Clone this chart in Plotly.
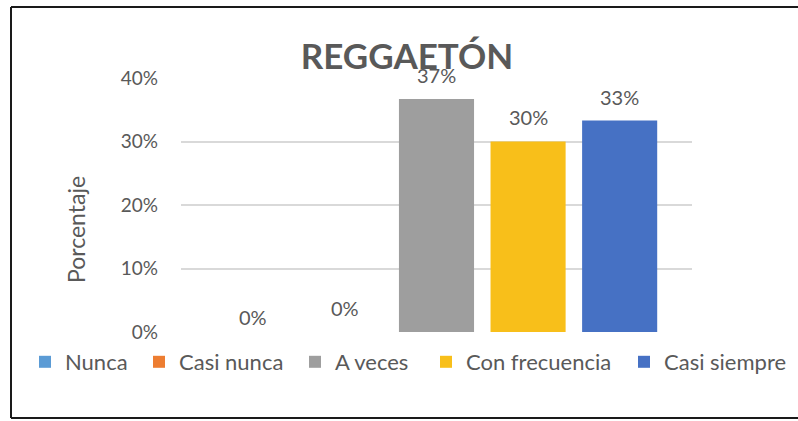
import plotly.graph_objects as go

categories = ["Nunca", "Casi nunca", "A veces", "Con frecuencia", "Casi siempre"]
values = [0.0, 0.0, 0.367, 0.300, 0.333]
labels = ["0%", "0%", "37%", "30%", "33%"]
colors = ["#5B9BD5", "#ED7D31", "#9E9E9E", "#F8BF1A", "#4671C4"]
label_shift = [15, 24, 24, 25, 24]
legend_left_px = [25, 139, 295, 426, 624]
y_ticks = [0, 0.1, 0.2, 0.3, 0.4]
y_ticklabels = ["0%", "10%", "20%", "30%", "40%"]

FONT = "Lato, 'Open Sans', sans-serif"
TXT = "#595959"

W, H = 798, 421
L, R, T, B = 181, 106, 78, 89
PW, PH = W - L - R, H - T - B


def px_x(px):
    return (px - L) / PW


def px_y(py):
    return (H - B - py) / PH


fig = go.Figure()
legend_names = ["legend"] + [f"legend{i}" for i in range(2, len(categories) + 1)]
for cat, val, col, lg in zip(categories, values, colors, legend_names):
    fig.add_trace(go.Bar(
        x=[cat], y=[val], name=cat, width=0.82, legend=lg,
        marker=dict(color=col, line=dict(width=0)),
        hoverinfo="skip",
    ))

for cat, val, lab, sh in zip(categories, values, labels, label_shift):
    fig.add_annotation(x=cat, y=val, text=lab, showarrow=False,
                       yshift=sh, font=dict(family=FONT, size=20, color=TXT))

# y-axis title
fig.add_annotation(xref="paper", yref="paper", x=px_x(76), y=px_y(230),
                   text="Porcentaje", textangle=-90, showarrow=False,
                   xanchor="center", yanchor="middle",
                   font=dict(family=FONT, size=23, color=TXT))

legend_layouts = {}
for lg, px in zip(legend_names, legend_left_px):
    legend_layouts[lg] = dict(orientation="h", x=px_x(px), xanchor="left",
                              y=px_y(362), yanchor="middle",
                              font=dict(family=FONT, size=22, color=TXT),
                              itemclick=False, itemdoubleclick=False,
                              bgcolor="rgba(0,0,0,0)")

border_color = "#1a1a1a"
fig.update_layout(
    width=W, height=H,
    margin=dict(l=L, r=R, t=T, b=B, autoexpand=False),
    paper_bgcolor="white", plot_bgcolor="white",
    barmode="overlay",
    title=dict(text="<b>REGGAETÓN</b>", x=407 / W, xanchor="center",
               y=1 - 57 / H, yanchor="middle",
               font=dict(family=FONT, size=35, color=TXT)),
    showlegend=True,
    xaxis=dict(type="category", categoryorder="array", categoryarray=categories,
               range=[-0.79, 4.79], showticklabels=False, showgrid=False,
               zeroline=False, showline=False, ticks=""),
    yaxis=dict(range=[0, 0.4], tickvals=y_ticks, ticktext=y_ticklabels,
               showgrid=True, gridcolor="#D9D9D9", gridwidth=1.5,
               zeroline=False, showline=False, ticks="",
               ticklabelstandoff=22,
               tickfont=dict(family=FONT, size=19, color=TXT)),
    shapes=[
        dict(type="line", xref="paper", yref="paper",
             x0=px_x(11), x1=px_x(11), y0=px_y(418), y1=px_y(7),
             line=dict(color=border_color, width=2)),
        dict(type="line", xref="paper", yref="paper",
             x0=px_x(11), x1=px_x(W + 20), y0=px_y(7), y1=px_y(7),
             line=dict(color=border_color, width=2)),
        dict(type="line", xref="paper", yref="paper",
             x0=px_x(11), x1=px_x(W + 20), y0=px_y(418), y1=px_y(418),
             line=dict(color=border_color, width=2)),
    ],
    **legend_layouts,
)

fig.write_html(
    "out.html",
    config={"displayModeBar": False},
    post_script="document.body.style.margin='0';document.body.style.overflow='hidden';",
)
